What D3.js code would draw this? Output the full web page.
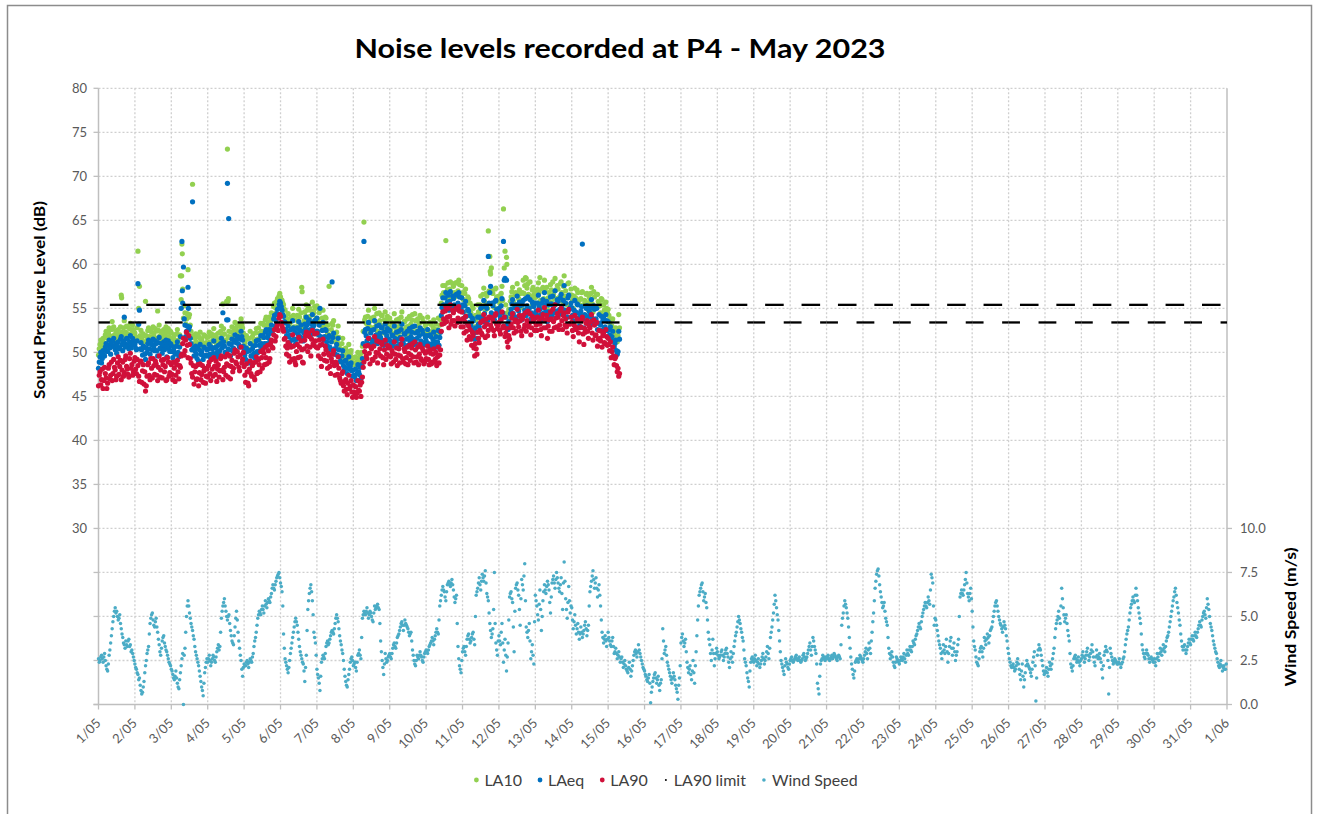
<!DOCTYPE html>
<html>
<head>
<meta charset="utf-8">
<script src="https://cdn.jsdelivr.net/npm/d3@7"></script>
<style>
body{margin:0;background:#fff;}
text{font-family:Lato,"Open Sans",sans-serif;}
</style>
</head>
<body>
<svg></svg>
<script>
// readings on the hour, starting 1/05 00:00
var la90 = [
46.2,47.8,46.9,45.9,48.3,47.1,46.5,48.6,47.4,46.8,49.2,48.0,47.3,49.5,48.4,46.9,48.9,47.7,49.6,48.1,47.2,49.9,48.6,47.8,
49.4,47.6,48.5,46.7,49.0,47.9,46.4,45.6,47.3,48.8,46.9,48.2,49.3,47.5,48.7,46.8,49.6,48.0,47.1,49.2,48.4,46.9,48.9,47.7,
48.6,46.9,48.2,47.4,49.1,47.0,48.3,49.8,51.6,50.2,52.3,49.4,50.9,48.8,47.2,46.4,48.4,47.0,46.2,48.7,47.5,46.6,48.2,47.3,
47.2,48.9,46.8,48.1,49.4,47.5,46.7,48.6,47.9,49.6,46.9,48.3,47.4,49.8,48.5,47.0,49.1,48.2,50.3,48.7,49.5,47.9,50.6,49.2,
48.4,46.6,47.8,46.2,49.0,47.3,48.8,46.9,49.5,47.7,48.6,50.1,48.2,49.9,50.6,48.7,50.2,49.3,51.4,50.5,52.6,51.8,53.2,53.9,
54.1,53.0,52.4,51.6,49.8,51.1,48.9,50.6,52.0,49.3,48.6,50.9,51.7,49.5,50.3,48.8,51.4,52.3,50.1,51.8,49.6,52.5,50.8,51.3,
52.2,49.6,50.8,48.4,51.5,49.1,50.3,48.2,49.7,47.6,48.9,50.2,47.4,48.6,49.5,47.1,46.5,47.8,45.6,46.9,45.2,47.4,46.1,45.5,
46.3,45.1,44.9,46.8,45.6,45.0,47.2,48.9,50.7,49.3,51.6,48.7,50.4,49.1,51.8,50.0,48.8,51.2,49.6,50.9,48.6,51.4,49.8,50.5,
50.6,48.7,49.9,51.2,49.2,48.5,50.4,49.6,51.5,48.9,50.1,49.4,48.6,50.8,49.7,51.0,48.8,50.3,49.5,48.6,50.9,49.1,50.2,48.9,
49.3,50.7,48.6,49.9,48.9,50.4,49.2,48.5,50.6,49.7,52.4,54.6,53.3,55.2,54.0,52.8,55.4,53.6,54.5,53.0,55.1,53.9,54.7,52.9,
53.8,52.2,54.1,51.4,53.0,52.6,50.8,51.9,49.6,50.4,52.3,51.1,53.4,52.0,54.3,51.7,53.2,52.5,54.0,52.8,53.6,51.9,54.4,52.7,
53.4,52.1,54.6,53.0,51.8,52.7,50.6,51.5,53.2,54.4,52.2,53.7,54.9,52.9,53.6,51.9,54.2,53.1,52.4,54.7,53.3,52.0,54.1,53.5,
53.9,52.5,54.8,53.2,51.9,54.3,55.1,52.8,51.6,53.7,54.6,52.4,53.5,55.4,52.9,54.0,53.1,55.0,52.6,54.5,53.8,52.2,54.9,53.3,
53.4,51.8,54.2,52.6,53.7,51.2,52.9,54.0,50.9,52.3,53.6,51.6,52.8,54.3,51.4,53.1,52.0,50.7,52.5,51.3,50.6,52.2,51.0,51.8,
51.6,50.2,49.4,50.6,48.6,49.5,47.8,47.3
];
// readings at half past each hour
var la90Half = [
47.4,46.3,48.1,46.8,47.6,45.9,48.2,47.0,48.9,47.6,48.3,46.9,48.8,47.5,49.1,48.0,47.3,49.2,48.4,47.5,49.3,48.2,47.4,49.0,
48.1,49.2,47.3,48.9,46.6,48.6,47.8,46.2,48.6,47.4,49.3,47.1,48.5,49.0,47.4,48.3,47.2,49.1,48.6,47.8,46.8,49.4,47.3,48.8,
47.5,48.9,46.7,48.6,47.8,48.5,49.6,51.0,49.7,51.4,50.8,51.9,49.3,47.6,48.5,47.8,46.9,48.6,47.7,46.9,48.5,47.9,46.5,48.1,
48.5,47.6,49.2,47.3,48.4,49.0,48.1,47.2,49.3,48.0,47.8,49.5,48.7,47.2,49.6,48.4,47.8,49.9,48.9,50.1,48.3,49.7,48.8,50.0,
47.4,48.7,46.5,48.1,47.6,48.5,47.2,48.9,47.6,49.2,47.8,49.4,50.3,48.6,49.4,50.8,48.9,51.0,50.6,52.0,51.3,52.9,52.5,54.3,
53.4,52.7,51.5,50.7,50.5,49.6,50.8,49.2,50.7,48.9,50.1,49.4,50.6,51.3,48.9,50.4,51.9,50.7,52.2,50.6,51.5,51.0,52.1,50.6,
50.5,51.4,49.3,50.9,49.8,50.7,49.0,49.9,48.4,49.3,49.8,48.5,48.9,47.5,48.2,46.8,47.6,46.2,46.7,45.8,46.5,45.9,46.8,44.9,
45.5,46.1,45.4,45.7,46.3,46.6,48.3,50.1,49.6,50.8,49.9,50.6,49.2,50.7,49.5,51.3,49.9,50.4,51.1,49.4,50.3,49.2,50.8,49.6,
49.5,50.2,48.9,49.8,50.5,49.7,48.8,50.9,49.3,50.4,48.7,50.6,49.9,49.1,50.5,49.5,51.2,48.9,50.6,49.8,49.3,50.5,48.7,49.9,
50.1,49.2,50.3,48.7,49.8,48.9,50.0,49.5,48.8,50.3,53.2,53.8,54.7,53.5,55.0,54.1,53.2,54.8,53.6,54.9,53.4,55.2,53.5,54.6,
52.9,53.5,52.4,53.2,51.8,51.5,52.3,50.5,51.0,49.8,51.6,52.5,52.2,53.6,52.9,53.8,51.9,54.0,53.1,53.9,52.5,54.2,53.2,53.1,
52.5,53.7,52.8,54.0,52.2,51.2,51.9,52.8,53.9,52.8,53.5,52.4,53.4,54.2,52.4,53.8,52.7,54.5,53.6,52.9,54.4,52.8,53.7,52.5,
53.1,54.0,53.5,52.6,53.9,52.8,53.7,54.2,53.0,52.4,53.8,54.9,52.8,53.9,54.4,52.6,54.7,53.6,54.2,53.1,52.9,54.6,53.2,54.0,
52.5,53.1,52.9,53.8,52.2,52.8,53.6,52.1,52.7,53.3,52.4,53.0,53.5,52.2,53.7,51.9,53.4,51.5,51.6,52.4,51.9,51.1,52.6,50.8,
50.9,51.2,50.1,49.6,49.3,48.5,48.2,47.6
];
var laeq = [
48.2,49.5,48.8,50.2,49.6,51.0,50.1,51.4,49.8,50.7,51.6,50.3,49.9,51.2,50.5,51.8,50.2,54.0,50.9,51.5,50.4,51.9,50.8,51.3,
50.9,50.3,57.8,54.8,51.1,49.7,50.6,49.2,50.0,51.4,49.8,50.9,51.5,50.2,51.0,49.6,51.7,50.4,49.9,51.2,50.6,49.5,51.3,50.1,
50.8,49.4,50.6,49.9,51.2,49.5,51.8,62.6,59.7,53.1,52.4,57.4,52.9,51.0,67.1,49.6,50.7,49.3,49.0,50.9,50.1,49.2,50.5,49.7,
49.6,50.9,49.3,50.4,51.3,49.8,49.5,50.8,50.2,51.6,54.5,50.7,49.9,69.2,51.0,49.6,51.5,50.5,52.0,51.1,51.8,50.6,52.4,51.4,
50.4,49.2,50.1,48.8,51.0,49.6,50.7,49.4,51.3,50.0,50.8,51.9,50.5,51.7,52.3,51.0,52.0,51.4,53.1,52.5,54.2,53.6,54.9,55.4,
55.6,54.8,54.1,53.4,51.9,53.0,51.2,52.6,53.6,51.5,51.0,52.8,53.5,51.8,52.4,51.3,53.2,54.0,52.3,53.7,52.0,54.3,53.1,53.6,
53.9,52.0,55.0,51.6,53.4,51.8,52.5,50.7,51.9,50.3,58.0,52.2,49.8,50.9,51.6,49.5,48.9,50.2,48.0,49.1,47.6,49.5,48.4,47.9,
48.0,47.2,46.8,48.6,47.5,47.0,49.3,62.6,52.6,51.3,53.4,50.9,52.5,51.2,53.6,52.0,51.0,53.1,51.7,52.8,50.8,53.2,51.9,52.4,
52.5,50.9,51.9,53.0,51.3,50.7,52.4,51.7,53.2,51.0,52.1,51.5,50.8,52.7,51.8,52.9,50.9,52.2,51.6,50.8,52.8,51.2,52.1,51.0,
51.3,52.6,50.7,51.8,51.0,52.3,51.2,50.6,52.5,51.7,54.2,56.2,55.0,56.8,55.7,54.8,56.9,55.3,56.1,54.9,56.6,55.6,56.3,55.0,
55.4,53.9,55.8,53.3,54.7,54.2,52.6,53.6,51.5,52.3,54.0,52.9,55.0,53.8,55.9,53.4,55.0,60.9,56.8,54.5,55.3,53.7,55.9,54.5,
55.0,53.8,56.1,62.6,58.4,58.2,52.6,53.3,54.9,56.0,54.0,55.4,56.4,54.7,55.3,53.7,55.9,54.8,54.2,56.3,55.0,53.8,55.7,55.2,
55.6,54.2,56.5,54.9,53.7,56.0,56.8,54.6,53.5,55.4,56.3,54.2,55.2,57.0,54.7,55.8,54.9,56.6,54.4,57.6,55.6,54.0,56.5,55.1,
55.1,53.6,55.9,54.5,55.4,53.0,54.7,62.3,52.8,54.2,55.3,53.4,54.5,56.0,53.2,54.9,53.8,52.6,54.3,53.1,52.5,54.0,52.9,53.6,
53.5,52.0,51.3,52.4,50.6,51.4,49.8,52.4
];
var laeqHalf = [
48.9,50.0,49.3,49.7,50.6,50.2,50.8,50.5,51.1,51.3,50.6,51.0,50.7,50.4,51.5,50.9,51.3,50.6,51.6,50.7,51.2,50.5,51.6,50.9,
50.5,51.3,53.2,50.4,50.3,50.7,49.8,50.5,51.0,50.4,51.2,50.3,50.6,51.3,50.2,51.1,50.5,51.0,50.8,50.3,51.4,50.9,50.4,51.0,
50.1,50.3,49.8,50.7,50.0,50.6,55.0,55.6,53.8,51.8,53.0,52.6,51.6,50.3,50.5,50.2,49.8,50.6,50.3,49.8,49.7,50.6,49.6,50.3,
50.4,49.8,50.6,49.9,50.5,50.6,50.1,49.7,51.0,50.5,51.2,50.0,53.7,50.4,50.3,50.9,50.2,51.2,51.4,51.7,50.9,51.5,51.8,50.7,
49.7,50.5,49.0,50.2,49.6,50.4,49.9,50.8,50.1,51.4,50.2,51.0,51.9,51.0,52.6,51.7,52.6,52.2,52.5,53.8,53.0,54.4,54.3,55.8,
55.2,54.3,53.5,52.6,52.4,51.8,52.0,51.4,52.8,52.3,51.5,52.1,52.6,53.1,51.6,52.2,52.7,53.1,53.5,52.6,53.2,52.9,53.6,52.4,
52.4,53.1,51.8,52.5,51.4,52.6,51.2,51.7,50.6,51.2,51.7,50.4,50.4,49.7,50.3,49.0,49.6,48.5,49.0,48.2,48.7,48.1,48.8,47.3,
47.4,48.1,47.6,47.8,48.3,48.6,51.0,52.3,51.9,52.7,51.6,52.2,51.4,52.6,51.5,53.0,51.8,52.2,52.8,51.3,52.3,51.2,52.7,51.5,
51.3,52.0,50.7,51.6,52.3,51.5,50.9,52.6,51.2,52.1,50.6,52.4,51.6,51.2,52.3,51.5,53.0,51.0,52.4,51.9,51.3,52.5,50.9,51.7,
51.9,51.0,52.0,50.6,51.5,50.9,51.8,51.2,50.8,52.3,55.1,55.4,56.2,55.2,56.5,55.8,55.2,56.4,55.4,56.5,55.3,56.8,55.2,56.2,
54.6,55.3,54.1,54.9,53.4,53.1,53.9,52.2,52.8,51.6,53.2,54.0,53.8,55.2,54.4,55.3,53.6,55.6,57.5,55.6,54.2,55.8,54.9,54.8,
54.2,55.3,54.5,58.2,54.0,53.1,53.5,54.4,55.5,54.4,55.1,54.0,55.1,55.7,54.1,55.4,54.3,56.1,55.3,54.6,56.0,54.5,55.4,54.2,
54.7,55.6,55.2,54.3,55.6,54.5,55.4,55.8,54.6,54.1,55.5,56.4,54.5,55.5,56.0,54.3,56.2,55.2,55.9,54.8,54.6,56.2,54.9,55.6,
54.2,54.8,54.6,55.5,53.9,54.4,55.2,53.8,54.3,55.0,54.0,54.7,55.1,53.9,55.3,53.6,55.0,53.3,53.3,54.1,53.6,52.8,54.3,52.5,
52.6,52.9,51.8,51.3,51.0,50.2,50.1,51.5
];
var la10 = [
49.7,50.9,50.3,51.6,51.0,52.4,51.6,52.8,51.2,53.5,52.9,51.7,51.4,52.6,51.9,56.5,51.7,53.6,52.3,52.9,51.8,53.3,52.2,52.6,
52.2,51.6,61.5,57.5,52.5,51.1,51.9,55.8,51.4,52.8,51.2,52.3,52.9,51.6,52.4,54.7,53.1,51.8,51.3,52.6,52.0,50.9,52.7,51.5,
52.2,50.8,52.0,51.3,52.6,50.9,58.7,62.3,53.9,54.5,53.8,59.4,54.3,52.4,69.1,51.0,52.1,50.7,50.4,52.3,51.5,50.6,51.9,51.1,
51.0,52.3,50.7,51.8,52.7,51.2,50.9,52.2,51.6,53.0,55.5,52.1,51.3,73.1,52.4,51.0,52.9,51.9,53.4,52.5,53.2,52.0,53.8,52.8,
51.8,50.6,51.5,50.2,52.4,51.0,52.1,50.8,52.7,51.4,52.2,53.3,51.9,53.1,53.7,52.4,53.4,52.8,54.5,53.9,55.6,55.0,56.1,56.4,
56.3,55.9,55.4,54.8,53.3,54.4,52.6,54.0,55.0,52.9,52.4,54.2,54.9,53.2,57.4,52.7,54.6,55.4,53.7,55.1,53.4,55.7,54.5,55.0,
55.3,53.4,54.8,53.0,54.8,53.2,53.9,52.1,57.5,51.7,53.3,53.6,51.2,52.3,53.0,50.9,50.3,51.6,49.4,50.5,49.0,50.9,49.8,49.3,
49.4,48.6,48.2,50.0,48.9,48.4,50.7,64.8,54.0,52.7,54.8,52.3,53.9,52.6,55.0,53.4,52.4,54.5,53.1,54.2,52.2,54.6,53.3,53.8,
53.9,52.3,53.3,54.4,52.7,52.1,53.8,53.1,54.6,52.4,53.5,52.9,52.2,54.1,53.2,54.3,52.3,53.6,53.0,52.2,54.2,52.6,53.5,52.4,
52.7,54.0,52.1,53.2,52.4,53.7,52.6,52.0,53.9,53.1,55.6,57.6,56.4,62.7,57.1,56.2,58.0,56.7,57.5,56.3,57.9,57.0,57.7,56.4,
56.8,55.3,57.2,54.7,56.1,55.6,54.0,55.0,52.9,53.7,55.4,54.3,56.4,55.2,57.3,54.8,56.4,63.8,60.9,59.6,56.7,55.1,57.3,55.9,
56.4,55.2,57.5,66.3,61.5,60.8,54.0,54.7,56.3,57.4,55.4,56.8,57.8,56.1,56.7,55.1,58.2,57.6,58.4,57.8,56.4,55.2,57.1,56.6,
57.0,55.6,57.9,58.5,55.1,57.4,58.2,56.0,54.9,56.8,57.7,55.6,56.6,58.4,56.1,57.2,56.3,58.0,55.8,58.7,57.0,55.4,57.9,56.5,
56.5,55.0,57.3,55.9,56.8,54.4,56.1,56.9,54.2,55.6,56.7,54.8,55.9,57.4,54.6,56.3,55.2,56.6,55.7,54.5,56.0,55.4,54.3,55.0,
54.9,53.4,52.7,53.8,52.0,52.8,51.2,54.3
];
var la10Half = [
50.4,51.4,50.8,51.1,52.0,51.7,52.3,51.9,52.6,52.7,52.0,52.4,52.2,51.9,52.9,52.3,52.8,52.1,53.0,52.1,52.7,51.9,53.1,52.3,
51.8,52.8,55.0,51.9,51.6,52.1,51.2,51.9,52.5,51.8,52.6,51.7,52.0,52.7,51.6,52.5,51.9,52.4,52.2,51.7,52.9,52.3,51.8,52.4,
51.5,51.7,51.2,52.1,51.4,52.0,56.0,57.2,55.3,53.2,54.4,54.0,53.1,51.7,51.9,51.6,51.2,52.0,51.7,51.2,51.1,52.0,51.0,51.7,
51.8,51.2,52.1,51.3,51.9,52.0,51.5,51.1,52.4,51.9,52.7,51.4,55.8,51.8,51.7,52.3,51.6,52.6,52.8,53.1,52.3,52.9,53.2,52.2,
51.1,51.9,50.4,51.6,51.0,51.8,51.3,52.2,51.5,52.8,51.6,52.4,53.3,52.4,54.0,53.1,54.0,53.6,53.9,55.2,54.4,55.8,55.7,56.7,
56.0,55.6,54.9,54.0,53.8,53.2,53.4,52.8,54.2,53.7,52.9,53.5,54.0,54.5,53.0,53.6,54.1,54.8,55.0,54.1,54.7,54.4,55.2,53.9,
53.8,54.5,53.2,53.9,52.8,54.0,52.6,53.1,52.0,52.6,53.1,51.8,51.8,51.1,51.7,50.4,51.0,49.9,50.4,49.6,50.1,49.5,50.2,48.7,
48.8,49.5,49.0,49.2,49.7,50.0,52.4,53.7,53.3,54.1,53.0,53.6,52.8,54.0,52.9,54.4,53.2,53.6,54.2,52.7,53.7,52.6,54.1,52.9,
52.7,53.4,52.1,53.0,53.7,52.9,52.3,54.0,52.6,53.5,52.0,53.8,53.0,52.6,53.7,52.9,54.4,52.4,53.8,53.3,52.7,53.9,52.3,53.1,
53.3,52.4,53.4,52.0,52.9,52.3,53.2,52.6,52.2,53.7,56.5,56.8,57.6,56.6,57.9,57.2,56.6,57.8,56.8,57.9,56.7,58.2,56.6,57.6,
56.0,56.7,55.5,56.3,54.8,54.5,55.3,53.6,54.2,53.0,54.6,55.4,55.2,56.6,55.8,56.7,55.0,57.0,58.9,57.0,55.6,57.2,56.3,56.2,
55.6,56.7,55.9,59.6,55.4,54.5,54.9,55.8,56.9,55.8,56.5,55.4,56.5,57.1,55.5,56.8,56.7,58.5,57.3,56.6,58.0,56.3,57.4,56.2,
56.3,57.2,56.8,55.9,57.2,56.1,57.0,57.4,56.2,55.7,57.1,58.0,56.1,57.1,57.6,55.9,57.8,56.8,57.5,56.4,56.2,57.8,56.5,57.2,
55.9,56.4,56.2,57.1,55.5,56.0,56.8,55.4,55.9,56.6,55.6,56.3,56.7,55.5,56.9,55.2,56.6,55.8,55.3,56.1,55.4,54.8,55.7,54.5,
54.2,53.8,53.0,52.5,52.4,51.6,51.9,52.8
];
// isolated readings between the hours
var la10Extra = [
["2023-05-01 15:15",56.2],["2023-05-03 06:50",58.7],["2023-05-03 07:15",61.2],
["2023-05-04 13:20",55.8],["2023-05-04 13:40",56.1],["2023-05-06 14:15",56.9],
["2023-05-11 18:15",59.2],["2023-05-12 05:15",60.0]
];
var laeqExtra = [
["2023-05-03 07:15",57.0],["2023-05-03 11:15",55.0],["2023-05-04 13:20",53.7],["2023-05-04 13:50",65.2]
];
// LA90 limit: day / night
var limitDay = 55.4;
var limitNight = 53.4;
var dayFromHour = 7.5;
var dayToHour = 19.75;

// wind speed on the hour
var wind = [
2.6,2.5,2.8,2.4,2.9,2.2,1.9,2.8,3.5,4.3,5.0,5.5,5.3,4.8,5.1,4.3,3.8,3.4,3.6,3.3,3.7,3.4,3.1,2.7,
2.3,2.0,1.7,1.5,0.8,0.7,1.3,2.2,2.9,3.3,4.6,5.1,4.8,4.4,4.9,4.1,3.4,2.8,3.6,3.9,3.3,3.0,2.6,2.3,
2.0,1.7,1.4,1.9,1.2,0.9,1.8,2.6,0.0,3.2,5.0,5.9,5.2,4.6,4.2,3.7,3.0,2.6,2.2,1.6,1.0,0.5,1.8,2.4,
2.4,2.8,2.2,2.6,2.7,2.4,3.0,3.4,3.3,4.9,5.6,6.0,5.3,4.8,5.1,4.2,3.6,3.4,4.4,5.3,4.1,3.2,2.5,1.6,
2.3,2.2,2.5,2.1,2.6,2.4,2.9,3.6,4.1,4.9,5.3,5.1,5.6,5.2,5.9,5.5,6.0,5.8,6.3,6.8,6.5,7.0,7.3,7.5,
6.9,6.4,4.0,2.6,2.2,1.8,2.5,3.2,3.8,4.4,4.9,4.5,3.7,3.0,2.6,2.3,1.3,2.8,5.4,6.3,6.8,5.9,4.1,3.5,
2.0,1.5,0.8,2.4,2.8,2.6,3.3,3.6,3.5,3.9,4.2,4.0,4.6,5.1,4.7,3.9,3.4,2.9,2.0,1.3,1.0,1.7,2.4,2.7,
2.2,2.4,1.9,2.8,3.1,2.6,4.9,5.3,5.1,5.5,4.9,5.3,5.0,4.7,5.6,5.5,5.7,5.4,3.6,2.5,1.7,2.9,2.4,2.7,
2.9,2.6,3.2,3.5,3.2,3.8,4.0,4.4,4.7,4.2,4.8,4.5,4.3,3.9,4.1,3.1,2.5,2.2,2.8,2.6,3.0,2.7,2.4,2.9,
3.1,2.9,3.3,3.5,3.8,3.4,3.9,4.3,4.0,5.6,6.2,6.7,6.4,5.9,6.8,7.0,6.7,7.1,6.5,5.8,6.2,3.3,2.2,1.8,
3.0,3.3,2.8,3.7,4.0,3.5,3.8,4.1,3.4,6.2,6.6,7.2,6.5,7.4,7.0,7.6,6.3,5.9,4.6,3.8,4.3,7.5,3.5,2.8,
3.9,3.4,4.6,2.4,3.7,1.9,3.5,6.1,6.4,5.8,3.0,6.6,6.9,6.2,4.5,7.1,6.5,8.0,4.4,3.8,4.6,2.6,3.4,2.3,
6.2,5.6,4.8,6.5,4.2,5.9,6.8,6.3,7.0,6.5,5.2,6.9,7.3,6.6,7.5,6.9,6.4,7.2,5.4,8.1,6.0,4.9,6.7,5.2,
5.5,4.3,5.1,4.0,4.6,3.7,4.4,3.8,4.2,4.7,3.9,4.5,6.4,7.0,7.6,6.6,7.2,6.1,6.8,5.6,4.1,3.5,3.9,3.3,
4.1,3.6,3.3,3.8,2.9,3.2,2.6,3.0,2.4,2.7,2.1,2.5,2.0,1.8,2.4,1.6,2.2,2.8,3.1,2.7,3.4,2.9,2.5,2.1,
1.9,1.6,1.3,1.7,0.1,1.0,1.5,1.8,1.2,1.6,0.8,1.4,4.3,2.9,3.3,2.4,2.0,1.6,1.2,1.8,1.4,0.9,0.3,1.5,
3.5,4.0,3.3,3.7,2.4,1.8,2.2,1.4,2.5,1.2,3.0,4.8,6.2,6.6,6.9,5.9,6.3,5.5,4.1,3.4,2.5,3.7,2.2,2.9,
3.0,2.6,2.8,3.1,2.5,2.9,3.2,2.7,2.1,3.0,2.4,3.3,3.9,4.4,5.0,4.6,4.1,3.6,2.6,2.2,1.5,1.0,2.4,2.7,
2.4,2.8,2.2,2.6,2.1,2.5,2.9,2.3,2.7,3.3,2.6,3.8,4.4,5.2,6.2,5.5,4.8,3.6,2.5,2.1,1.7,2.6,2.3,2.0,
2.5,2.7,2.4,2.6,2.8,2.5,2.7,2.4,2.6,2.9,2.5,2.7,3.1,3.5,2.8,3.8,3.3,2.9,1.2,0.6,2.3,2.6,2.7,2.5,
2.6,2.8,2.5,2.7,2.6,2.9,2.7,2.5,2.8,2.6,4.5,5.2,5.9,5.5,4.9,3.8,2.7,2.0,1.5,2.4,2.6,2.4,2.8,2.6,
2.4,2.8,3.2,2.6,3.5,2.9,4.1,5.2,6.6,7.4,7.7,6.8,6.1,5.5,5.8,4.9,4.5,3.2,2.6,3.0,2.4,2.1,2.7,2.5,
2.3,2.7,2.5,2.9,2.4,3.1,2.8,3.3,3.0,3.6,3.4,3.9,4.2,4.6,4.3,5.0,5.4,5.8,5.5,6.1,5.7,7.4,6.9,4.5,
4.8,4.2,3.6,3.2,2.6,3.4,2.9,3.7,2.4,3.3,3.8,2.8,3.5,2.5,3.0,3.7,6.1,6.5,6.2,6.8,7.5,6.3,5.9,6.6,
5.3,3.6,3.1,2.4,2.2,3.0,3.3,2.7,3.8,3.4,4.0,3.5,4.2,4.4,5.0,5.6,5.9,5.3,4.8,4.5,4.1,4.7,4.3,3.6,
2.9,2.4,2.1,2.3,1.9,2.2,2.6,2.0,1.4,2.3,1.0,1.8,2.5,2.2,2.0,1.6,2.4,3.0,0.2,2.8,3.4,3.1,2.5,1.9,
1.8,2.1,1.6,2.4,2.0,2.6,3.2,4.3,4.8,5.3,4.6,6.6,5.5,4.7,5.1,4.2,3.6,2.3,1.9,2.6,2.8,2.4,2.7,2.2,
2.6,3.0,2.4,2.8,3.2,2.5,2.9,3.4,2.7,2.2,3.1,2.6,2.9,2.4,1.5,2.8,3.3,3.0,0.6,3.2,2.7,2.3,2.6,2.4,
2.3,2.6,2.1,2.4,2.7,3.4,4.0,4.4,5.2,5.7,6.1,5.8,6.6,5.9,5.2,4.6,3.4,2.9,2.6,3.1,2.8,2.4,2.7,2.5,
2.6,2.2,2.9,2.5,3.2,2.8,3.4,3.0,3.6,3.9,4.4,5.0,5.6,6.1,6.6,5.8,5.2,4.5,3.6,3.1,3.4,2.9,3.3,3.7,
3.4,3.9,3.6,4.1,3.8,4.3,4.7,4.4,5.0,5.3,4.9,6.0,5.4,4.6,4.2,3.6,3.2,2.9,2.4,2.1,2.5,1.9,2.2,2.0
];
// wind speed at half past each hour
var windHalf = [
2.4,2.7,2.6,2.7,2.5,2.0,2.3,3.1,3.9,4.7,5.3,5.2,5.0,4.9,4.6,4.0,3.5,3.2,3.4,3.6,3.3,3.0,2.9,2.5,
2.1,1.8,1.4,1.1,0.6,1.0,1.8,2.5,3.1,4.0,4.9,5.2,4.5,4.7,4.4,3.7,3.0,3.2,3.8,3.5,3.1,2.8,2.4,2.2,
1.9,1.5,1.6,1.5,1.0,1.4,2.2,2.9,2.8,4.1,5.6,5.6,4.9,4.4,3.9,3.3,2.8,2.4,1.9,1.3,0.8,1.2,2.1,2.6,
2.6,2.5,2.4,2.8,2.5,2.7,3.2,3.1,4.1,5.3,5.8,5.6,5.0,5.0,4.6,3.9,3.5,3.9,4.9,4.8,3.6,2.8,2.0,2.1,
2.2,2.4,2.3,2.4,2.5,2.7,3.3,3.8,4.5,5.1,5.2,5.4,5.4,5.6,5.7,5.8,5.9,6.1,6.6,6.6,6.8,7.2,7.4,7.2,
6.7,5.6,3.2,2.4,2.0,2.1,2.9,3.5,4.1,4.7,4.7,4.1,3.3,2.8,2.4,1.9,2.1,4.2,5.9,6.6,6.4,5.1,3.8,2.8,
1.7,1.2,1.6,2.6,2.7,2.9,3.5,3.4,3.7,4.1,4.1,4.3,4.9,4.9,4.3,3.6,3.1,2.5,1.6,1.1,1.4,2.0,2.6,2.5,
2.3,2.1,2.4,2.9,2.8,3.8,5.1,5.2,5.3,5.2,5.1,5.2,4.8,5.2,5.4,5.6,5.5,4.6,3.0,2.1,2.3,2.6,2.5,2.8,
2.7,2.9,3.4,3.3,3.5,3.9,4.2,4.6,4.5,4.5,4.6,4.4,4.1,4.0,3.6,2.8,2.3,2.5,2.7,2.8,2.8,2.5,2.7,3.0,
3.0,3.1,3.4,3.6,3.6,3.7,4.1,4.1,4.8,5.9,6.5,6.5,6.1,6.4,6.9,6.8,6.9,6.8,6.1,6.0,4.6,2.6,2.0,2.5,
3.2,3.0,3.3,3.9,3.7,3.6,4.0,3.7,5.0,6.4,6.9,6.8,7.0,7.2,7.3,6.9,6.1,5.2,4.2,4.0,5.4,4.6,3.1,3.6,
3.6,4.1,3.5,3.1,2.8,2.7,4.8,6.3,6.0,4.4,5.3,6.8,6.5,5.4,6.0,6.8,7.3,5.9,4.1,4.2,3.6,3.0,2.8,4.7,
5.9,5.1,5.7,5.4,5.0,6.4,6.5,6.7,6.8,5.8,6.1,7.1,6.9,7.1,7.2,6.6,6.8,6.3,6.9,7.0,5.4,5.8,5.9,5.6,
4.8,4.7,4.5,4.3,4.1,4.0,4.1,4.0,4.5,4.3,4.2,5.6,6.7,7.3,7.1,6.9,6.6,6.5,6.2,4.8,3.8,3.7,3.6,3.7,
3.8,3.4,3.6,3.3,3.0,2.9,2.8,2.7,2.6,2.4,2.3,2.2,1.9,2.1,2.0,1.9,2.5,3.0,2.9,3.0,3.1,2.7,2.3,2.0,
1.7,1.4,1.5,1.2,0.7,1.3,1.7,1.5,1.4,1.1,1.2,2.6,3.6,3.1,2.8,2.2,1.8,1.4,1.5,1.6,1.1,0.7,1.1,2.2,
3.8,3.6,3.5,3.0,2.1,2.0,1.7,1.9,1.8,2.2,3.9,5.6,6.4,6.8,6.4,6.1,5.8,4.8,3.7,2.9,3.1,2.9,2.6,3.2,
2.8,2.7,3.0,2.8,2.7,3.1,2.9,2.4,2.6,2.7,2.9,3.6,4.1,4.7,4.8,4.3,3.8,3.1,2.4,1.8,1.3,1.9,2.6,2.5,
2.6,2.5,2.4,2.3,2.3,2.7,2.6,2.5,3.0,2.9,3.2,4.1,4.8,5.7,5.9,5.1,4.2,3.0,2.3,1.9,2.2,2.4,2.1,2.3,
2.6,2.5,2.5,2.7,2.6,2.6,2.5,2.5,2.8,2.7,2.6,2.9,3.3,3.1,3.3,3.6,3.1,2.3,0.9,1.6,2.5,2.8,2.6,2.7,
2.7,2.6,2.6,2.8,2.7,2.8,2.6,2.7,2.7,3.4,4.9,5.6,5.7,5.2,4.4,3.2,2.3,1.7,1.9,2.5,2.5,2.6,2.7,2.5,
2.6,3.0,2.9,3.1,3.2,3.6,4.7,5.9,7.0,7.6,7.3,6.4,5.8,5.6,5.3,4.7,3.8,2.9,2.8,2.7,2.2,2.4,2.6,2.4,
2.5,2.6,2.7,2.6,2.8,2.9,3.1,3.1,3.3,3.5,3.7,4.0,4.4,4.4,4.7,5.2,5.6,5.6,5.8,5.9,6.5,7.2,5.6,4.9,
4.5,3.9,3.4,2.9,3.0,3.1,3.3,3.0,2.9,3.6,3.2,3.2,3.0,2.8,3.4,5.0,6.3,6.3,6.5,7.1,6.9,6.1,6.3,6.0,
4.4,3.3,2.7,2.3,2.6,3.2,3.0,3.2,3.6,3.7,3.8,3.9,4.3,4.7,5.3,5.8,5.6,5.0,4.6,4.3,4.4,4.5,3.9,3.2,
2.6,2.2,2.2,2.1,2.0,2.4,2.3,1.7,1.9,1.6,1.4,2.2,2.3,2.1,1.8,2.0,2.7,2.2,1.5,3.1,3.2,2.8,2.2,1.7,
1.9,1.8,2.0,2.2,2.3,2.9,3.8,4.6,5.0,4.9,5.6,6.0,5.1,4.9,4.6,3.9,2.9,2.1,2.2,2.7,2.6,2.5,2.4,2.5,
2.8,2.7,2.6,3.0,2.8,2.7,3.1,3.0,2.4,2.7,2.8,2.7,2.6,2.0,2.2,3.0,3.1,2.5,2.1,2.9,2.5,2.4,2.5,2.3,
2.4,2.3,2.3,2.6,3.0,3.7,4.2,4.8,5.5,5.9,5.9,6.2,6.2,5.5,4.9,4.0,3.1,2.7,2.9,2.9,2.6,2.6,2.6,2.4,
2.4,2.6,2.7,2.9,3.0,3.1,3.2,3.3,3.8,4.1,4.7,5.3,5.9,6.4,6.2,5.5,4.8,4.0,3.3,3.3,3.1,3.1,3.5,3.5,
3.7,3.7,3.9,3.9,4.1,4.5,4.5,4.8,5.2,5.1,5.5,5.7,5.0,4.4,3.9,3.4,3.0,2.6,2.2,2.3,2.2,2.1,2.0,2.3
];

var dayLabels = ["1/05","2/05","3/05","4/05","5/05","6/05","7/05","8/05","9/05","10/05",
  "11/05","12/05","13/05","14/05","15/05","16/05","17/05","18/05","19/05","20/05",
  "21/05","22/05","23/05","24/05","25/05","26/05","27/05","28/05","29/05","30/05","31/05","1/06"];
var leftTicks = [80,75,70,65,60,55,50,45,40,35,30];
var leftMinorTicks = [25,20,15,10];
var rightTicks = [0,2.5,5,7.5,10];

var startTime = Date.UTC(2023,4,1);
var hourMs = 3600000;
var parseTime = d3.utcParse("%Y-%m-%d %H:%M");

var svg = d3.select("svg")
            .attr("width",1317)
            .attr("height",814);

svg.append("rect")
   .attr("width",1317)
   .attr("height",814)
   .attr("fill","white");

// chart frame
svg.append("rect")
   .attr("x",7.5)
   .attr("y",5.5)
   .attr("width",1304)
   .attr("height",820)
   .attr("fill","none")
   .attr("stroke","#8c8c8c")
   .attr("stroke-width",1.5);

var x = d3.scaleUtc()
          .domain([new Date(startTime), new Date(startTime + 31*24*hourMs)])
          .range([98.5,1227]);
var yLeft = d3.scaleLinear().domain([10,80]).range([704.5,88.3]);
var yRight = d3.scaleLinear().domain([0,35]).range([704.5,88.3]);

var timed = function(values, offsetHours)
{
  return values.map(function(v,i){
    return {t:new Date(startTime + (i + offsetHours)*hourMs), v:v};
  });
};
var extra = function(list)
{
  return list.map(function(d){ return {t:parseTime(d[0]), v:d[1]}; });
};

var dayDates = dayLabels.map(function(d,i){ return new Date(startTime + i*24*hourMs); });

// gridlines
var grid = svg.append("g").attr("id","grid");
grid.selectAll("line.h")
    .data(leftTicks.concat(leftMinorTicks.slice(0,3)))
    .enter()
    .append("line")
    .attr("x1",x.range()[0])
    .attr("x2",x.range()[1])
    .attr("y1",function(d){return yLeft(d);})
    .attr("y2",function(d){return yLeft(d);})
    .attr("stroke","#cfcfcf")
    .attr("stroke-width",1.3)
    .attr("stroke-dasharray","2,2");
grid.selectAll("line.v")
    .data(dayDates.slice(1,31))
    .enter()
    .append("line")
    .attr("x1",function(d){return x(d);})
    .attr("x2",function(d){return x(d);})
    .attr("y1",yLeft(80))
    .attr("y2",yLeft(10))
    .attr("stroke","#cfcfcf")
    .attr("stroke-width",1.3)
    .attr("stroke-dasharray","2,2");

// axes lines and ticks
var axisColor = "#bfbfbf";
var axes = svg.append("g").attr("id","axes");
axes.append("line")
    .attr("x1",x.range()[0]).attr("x2",x.range()[0])
    .attr("y1",yLeft(80)).attr("y2",yLeft(10))
    .attr("stroke",axisColor).attr("stroke-width",1.5);
axes.append("line")
    .attr("x1",x.range()[1]).attr("x2",x.range()[1])
    .attr("y1",yLeft(80)).attr("y2",yLeft(10))
    .attr("stroke",axisColor).attr("stroke-width",1.5);
axes.append("line")
    .attr("x1",x.range()[0]-5).attr("x2",x.range()[1])
    .attr("y1",yLeft(10)).attr("y2",yLeft(10))
    .attr("stroke",axisColor).attr("stroke-width",1.5);

axes.selectAll("line.lt")
    .data(leftTicks.concat(leftMinorTicks))
    .enter()
    .append("line")
    .attr("x1",x.range()[0]-5).attr("x2",x.range()[0])
    .attr("y1",function(d){return yLeft(d);})
    .attr("y2",function(d){return yLeft(d);})
    .attr("stroke",axisColor).attr("stroke-width",1.3);
axes.selectAll("line.rt")
    .data(rightTicks)
    .enter()
    .append("line")
    .attr("x1",x.range()[1]).attr("x2",x.range()[1]+5)
    .attr("y1",function(d){return yRight(d);})
    .attr("y2",function(d){return yRight(d);})
    .attr("stroke",axisColor).attr("stroke-width",1.3);
axes.selectAll("line.xt")
    .data(dayDates)
    .enter()
    .append("line")
    .attr("x1",function(d){return x(d);})
    .attr("x2",function(d){return x(d);})
    .attr("y1",yLeft(10)).attr("y2",yLeft(10)+5)
    .attr("stroke",axisColor).attr("stroke-width",1.3);

axes.selectAll("text.lt")
    .data(leftTicks)
    .enter()
    .append("text")
    .attr("x",87)
    .attr("y",function(d){return yLeft(d);})
    .attr("dy","0.35em")
    .attr("text-anchor","end")
    .attr("font-size","13px")
    .attr("fill","#595959")
    .text(function(d){return d;});
axes.selectAll("text.rt")
    .data(rightTicks)
    .enter()
    .append("text")
    .attr("x",1240)
    .attr("y",function(d){return yRight(d);})
    .attr("dy","0.35em")
    .attr("font-size","13px")
    .attr("fill","#595959")
    .text(function(d){return d.toFixed(1);});
axes.selectAll("text.xt")
    .data(dayLabels)
    .enter()
    .append("text")
    .attr("transform",function(d,i){
      return "translate(" + (x(dayDates[i]) + 3) + ",724) rotate(-45)";
    })
    .attr("text-anchor","end")
    .attr("font-size","13px")
    .attr("fill","#595959")
    .text(function(d){return d;});

// series
var plot = svg.append("g").attr("id","points");
var drawPoints = function(points, scale, color, r)
{
  plot.append("g")
      .selectAll("circle")
      .data(points)
      .enter()
      .append("circle")
      .attr("cx",function(d){return x(d.t);})
      .attr("cy",function(d){return scale(d.v);})
      .attr("r",r)
      .attr("fill",color);
};

var colLA10 = "#92d050";
var colLAeq = "#0070c0";
var colLA90 = "#d0103a";
var colWind = "#4bacc6";

drawPoints(timed(la10,0).concat(timed(la10Half,0.5), extra(la10Extra)), yLeft, colLA10, 2.6);
drawPoints(timed(laeq,0).concat(timed(laeqHalf,0.5), extra(laeqExtra)), yLeft, colLAeq, 2.6);
drawPoints(timed(la90,0).concat(timed(la90Half,0.5)), yLeft, colLA90, 2.6);

// LA90 limit, day and night periods
var limitPeriods = [];
d3.range(31).forEach(function(d){
  var base = d*24;
  limitPeriods.push({from:base, to:base+dayFromHour, v:limitNight});
  limitPeriods.push({from:base+dayFromHour, to:base+dayToHour, v:limitDay});
  limitPeriods.push({from:base+dayToHour, to:base+24, v:limitNight});
});
plot.append("g")
    .selectAll("line")
    .data(limitPeriods)
    .enter()
    .append("line")
    .attr("x1",function(d){return x(new Date(startTime + d.from*hourMs));})
    .attr("x2",function(d){return x(new Date(startTime + d.to*hourMs));})
    .attr("y1",function(d){return yLeft(d.v);})
    .attr("y2",function(d){return yLeft(d.v);})
    .attr("stroke","#000")
    .attr("stroke-width",2.3);

drawPoints(timed(wind,0).concat(timed(windHalf,0.5)), yRight, colWind, 1.75);

// titles
svg.append("text")
   .attr("x",620)
   .attr("y",58)
   .attr("text-anchor","middle")
   .attr("font-size","27px")
   .attr("font-weight","bold")
   .attr("textLength",531)
   .attr("lengthAdjust","spacingAndGlyphs")
   .text("Noise levels recorded at P4 - May 2023");

svg.append("text")
   .attr("transform","translate(45,300) rotate(-90)")
   .attr("text-anchor","middle")
   .attr("font-size","15px")
   .attr("font-weight","bold")
   .attr("textLength",198)
   .attr("lengthAdjust","spacingAndGlyphs")
   .text("Sound Pressure Level (dB)");

svg.append("text")
   .attr("transform","translate(1296,617) rotate(-90)")
   .attr("text-anchor","middle")
   .attr("font-size","15px")
   .attr("font-weight","bold")
   .attr("textLength",139)
   .attr("lengthAdjust","spacingAndGlyphs")
   .text("Wind Speed (m/s)");

// legend
var legendItems = [
  {label:"LA10", color:colLA10, r:2.4},
  {label:"LAeq", color:colLAeq, r:2.4},
  {label:"LA90", color:colLA90, r:2.4},
  {label:"LA90 limit", color:"#000", r:1},
  {label:"Wind Speed", color:colWind, r:1.8}
];
var legend = svg.append("g").attr("id","legend");
var lx = 0;
legendItems.forEach(function(item){
  var g = legend.append("g").attr("transform","translate(" + lx + ",0)");
  g.append("circle").attr("cx",4).attr("cy",0).attr("r",item.r).attr("fill",item.color);
  var t = g.append("text")
           .attr("x",12)
           .attr("y",0)
           .attr("dy","0.35em")
           .attr("font-size","16px")
           .attr("fill","#404040")
           .text(item.label);
  lx += 12 + t.node().getComputedTextLength() + 14;
});
legend.attr("transform","translate(" + (665 - (lx-14)/2) + ",780)");
</script>
</body>
</html>
